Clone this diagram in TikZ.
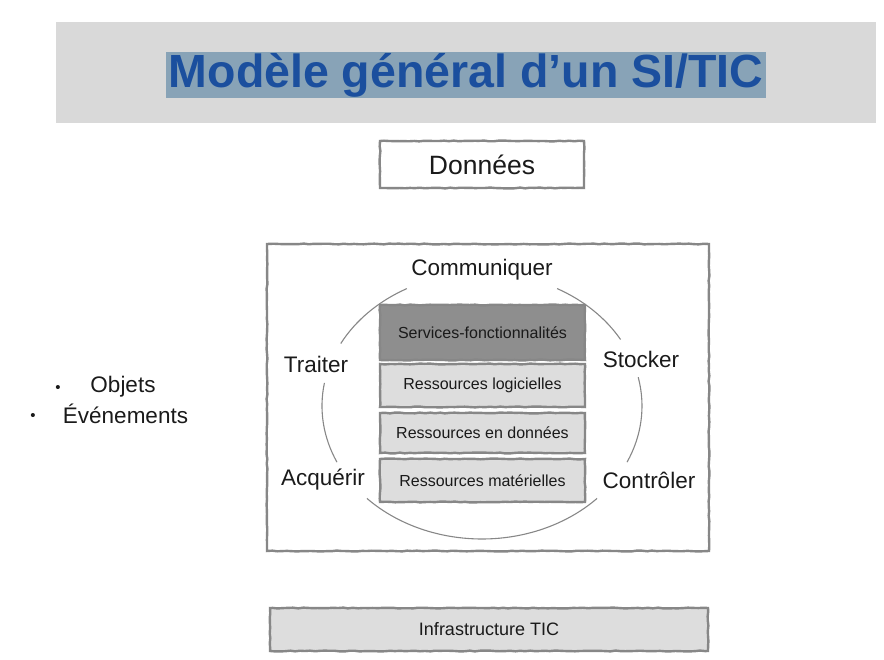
\documentclass[tikz,border=0pt]{standalone}
\usepackage{fontspec}
\setmainfont{Liberation Sans}
\newfontfamily\titlefont{Liberation Sans}
\usetikzlibrary{decorations.pathmorphing}
\definecolor{band}{HTML}{D9D9D9}
\definecolor{hilite}{HTML}{88A3B7}
\definecolor{titleblue}{HTML}{1B4F9E}
\definecolor{edge}{HTML}{878787}
\definecolor{lightfill}{HTML}{DDDDDD}
\definecolor{darkfill}{HTML}{8E8E8E}
\definecolor{ink}{HTML}{1A1A1A}
\tikzset{
  sketch/.style={draw=edge, line width=2.4pt,
    decorate, decoration={random steps, segment length=5pt, amplitude=0.45pt}},
  layerbox/.style={sketch, fill=lightfill, minimum width=205pt, text=ink,
    font=\fontsize{16}{18}\selectfont, inner sep=0pt},
  verb/.style={text=ink, font=\fontsize{22.5}{26}\selectfont, inner sep=1pt},
  item/.style={text=ink, font=\fontsize{22.5}{26}\selectfont, inner sep=0pt},
  bullet/.style={text=ink, font=\fontsize{15}{17}\selectfont, inner sep=0pt},
  ring/.style={draw=edge, line width=1.1pt}
}
\begin{document}
\begin{tikzpicture}[x=1pt,y=1pt]
\useasboundingbox (0,0) rectangle (884,659);
% header
\fill[band] (56,536) rectangle (876,637);
\node[fill=hilite, minimum width=600pt, minimum height=46pt, inner sep=0pt,
  text=titleblue, font=\titlefont\bfseries\fontsize{46.5}{50}\selectfont] (title) at (466,584)
  {Modèle général d’un SI/TIC};
% données
\node[sketch, fill=white, minimum width=204pt, minimum height=47pt, inner sep=0pt,
  text=ink, font=\fontsize{26.5}{30}\selectfont] (donnees) at (482,494.5) {Données};
% big frame
\node[sketch, minimum width=442pt, minimum height=307pt] (frame) at (488,261.5) {};
% ellipse arcs
\coordinate (c) at (482,253);
\draw[ring] ([shift={(30:160pt and 133pt)}]c) arc[start angle=30, end angle=62, x radius=160pt, y radius=133pt];
\draw[ring] ([shift={(118:160pt and 133pt)}]c) arc[start angle=118, end angle=152, x radius=160pt, y radius=133pt];
\draw[ring] ([shift={(170:160pt and 133pt)}]c) arc[start angle=170, end angle=205, x radius=160pt, y radius=133pt];
\draw[ring] ([shift={(224:160pt and 133pt)}]c) arc[start angle=224, end angle=316, x radius=160pt, y radius=133pt];
\draw[ring] ([shift={(335:160pt and 133pt)}]c) arc[start angle=335, end angle=372.5, x radius=160pt, y radius=133pt];
% layers
\node[layerbox, fill=darkfill, minimum height=55pt] (services) at (482.5,326.5) {Services-fonctionnalités};
\node[layerbox, minimum height=43pt] (logiciel) at (482.5,273.5) {Ressources logicielles};
\node[layerbox, minimum height=40pt] (resdon) at (482.5,226) {Ressources en données};
\node[layerbox, minimum height=43pt] (materiel) at (482.5,178.5) {Ressources matérielles};
% verbs
\node[verb] (communiquer) at (482,389) {Communiquer};
\node[verb] (traiter) at (316,295) {Traiter};
\node[verb] (stocker) at (641,300) {Stocker};
\node[verb] (acquerir) at (323,179) {Acquérir};
\node[verb] (controler) at (649,179) {Contrôler};
% left list
\node[bullet] (b1) at (58,270) {•};
\node[item] (objets) at (123,272) {Objets};
\node[bullet] (b2) at (33,242) {•};
\node[item] (evenements) at (125.5,245) {Événements};
% infrastructure
\node[layerbox, minimum width=438pt, minimum height=43pt, font=\fontsize{18}{20}\selectfont] (infra) at (489,29.5) {Infrastructure TIC};
\end{tikzpicture}
\end{document}
